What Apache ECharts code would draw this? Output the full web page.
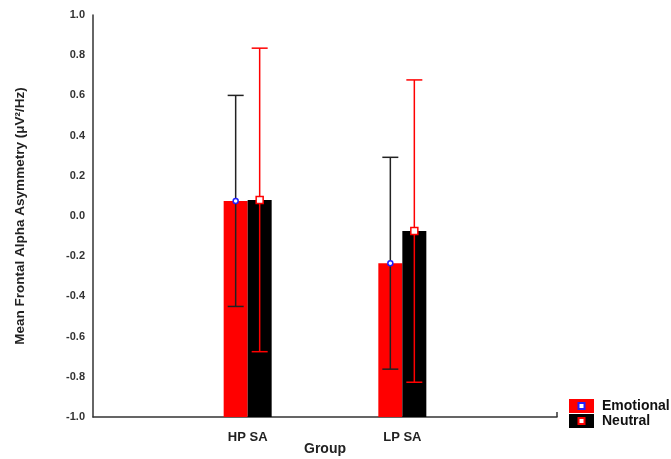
<!DOCTYPE html>
<html>
<head>
<meta charset="utf-8">
<script src="https://cdn.jsdelivr.net/npm/echarts@6/dist/echarts.min.js"></script>
<style>html,body{margin:0;padding:0;background:#fff;}#main{width:671px;height:459px;}</style>
</head>
<body>
<div id="main"></div>
<script>
// Data
var categories = ['', 'HP SA', 'LP SA', ''];
var emotionalMean = [null, 0.075, -0.235, null];
var emotionalSD = [null, 0.525, 0.527, null];
var neutralMean = [null, 0.08, -0.075, null];
var neutralSD = [null, 0.755, 0.752, null];
var yTicks = { min: -1, max: 1, step: 0.2 };

var FONT = '"Liberation Sans", Arial, sans-serif';
function svgIcon(bg, border) {
  var s = "<svg xmlns='http://www.w3.org/2000/svg' width='25' height='14'>" +
    "<rect width='25' height='14' fill='" + bg + "'/>" +
    "<rect x='9.5' y='4' width='6' height='6' fill='white' stroke='" + border + "' stroke-width='2'/></svg>";
  return 'image://data:image/svg+xml;charset=utf-8,' + encodeURIComponent(s);
}

function seriesData(means, sds) {
  var out = [];
  for (var i = 0; i < means.length; i++) {
    if (means[i] !== null) out.push([i, means[i], sds[i]]);
  }
  return out;
}

var BAR_W = 24;
function makeBar(offset, color) {
  return function (params, api) {
    var idx = api.value(0), m = api.value(1);
    var pm = api.coord([idx, m]);
    var pb = api.coord([idx, yTicks.min]);
    var xc = pm[0] + offset;
    return { type: 'rect', shape: { x: xc - BAR_W / 2, y: pm[1], width: BAR_W, height: pb[1] - pm[1] }, style: { fill: color } };
  };
}

function makeErr(offset, color, marker, markerColor) {
  return function (params, api) {
    var idx = api.value(0), m = api.value(1), sd = api.value(2);
    var pm = api.coord([idx, m]);
    var pt = api.coord([idx, m + sd]);
    var pb = api.coord([idx, m - sd]);
    var x = pm[0] + offset;
    var cap = 8;
    var st = { stroke: color, lineWidth: 1.5 };
    var children = [
      { type: 'line', shape: { x1: x, y1: pt[1], x2: x, y2: pb[1] }, style: st },
      { type: 'line', shape: { x1: x - cap, y1: pt[1], x2: x + cap, y2: pt[1] }, style: st },
      { type: 'line', shape: { x1: x - cap, y1: pb[1], x2: x + cap, y2: pb[1] }, style: st }
    ];
    if (marker === 'circle') {
      children.push({ type: 'circle', shape: { cx: x, cy: pm[1], r: 2.5 }, style: { fill: '#fff', stroke: markerColor, lineWidth: 1.5 } });
    } else {
      children.push({ type: 'rect', shape: { x: x - 3.5, y: pm[1] - 3.5, width: 7, height: 7 }, style: { fill: '#fff', stroke: markerColor, lineWidth: 1.5 } });
    }
    return { type: 'group', children: children };
  };
}

var chart = echarts.init(document.getElementById('main'));
chart.setOption({
  backgroundColor: '#fff',
  animation: false,
  grid: { left: 93, right: 114, top: 15, bottom: 42, outerBoundsMode: 'none', containLabel: false },
  legend: {
    orient: 'vertical',
    left: 569, top: 399,
    padding: 0,
    itemWidth: 25, itemHeight: 14, itemGap: 1,
    textStyle: { fontFamily: FONT, fontWeight: 'bold', fontSize: 14, color: '#111', padding: [0, 0, 0, 3] },
    data: [
      { name: 'Emotional', icon: svgIcon('#ff0000', '#2020ff') },
      { name: 'Neutral', icon: svgIcon('#000000', '#ff0000') }
    ]
  },
  xAxis: {
    type: 'category',
    data: categories,
    boundaryGap: false,
    name: 'Group',
    nameLocation: 'middle',
    nameGap: 25,
    nameMoveOverlap: false,
    nameTextStyle: { fontFamily: FONT, fontWeight: 'bold', fontSize: 14, color: '#222' },
    axisLine: { onZero: false, lineStyle: { color: '#333', width: 1.5 } },
    axisTick: { show: true, inside: true, length: 5, interval: function (i) { return i === 3; }, lineStyle: { color: '#333', width: 1.5 } },
    axisLabel: { margin: 14, fontFamily: FONT, fontWeight: 'bold', fontSize: 13, color: '#222', interval: 0 },
    splitLine: { show: false }
  },
  yAxis: {
    type: 'value',
    min: yTicks.min, max: yTicks.max, interval: yTicks.step,
    name: 'Mean Frontal Alpha Asymmetry (μV²/Hz)',
    nameLocation: 'middle',
    nameGap: 66,
    nameRotate: 90,
    nameMoveOverlap: false,
    nameTextStyle: { fontFamily: FONT, fontWeight: 'bold', fontSize: 13.5, color: '#222' },
    axisLine: { show: true, lineStyle: { color: '#333', width: 1.5 } },
    axisTick: { show: false },
    axisLabel: { margin: 8, fontFamily: FONT, fontWeight: 'bold', fontSize: 11, color: '#333',
      formatter: function (v) { return (Math.round(v * 10) / 10 + 0).toFixed(1); } },
    splitLine: { show: false }
  },
  series: [
    { name: 'Emotional', type: 'custom', z: 2, itemStyle: { color: '#ff0000' }, data: seriesData(emotionalMean, emotionalSD),
      renderItem: makeBar(-BAR_W / 2, '#ff0000') },
    { name: 'Neutral', type: 'custom', z: 2, itemStyle: { color: '#000000' }, data: seriesData(neutralMean, neutralSD),
      renderItem: makeBar(BAR_W / 2, '#000000') },
    { name: 'EmotionalErr', type: 'custom', z: 5, data: seriesData(emotionalMean, emotionalSD),
      renderItem: makeErr(-12, '#222', 'circle', '#2020ff') },
    { name: 'NeutralErr', type: 'custom', z: 6, data: seriesData(neutralMean, neutralSD),
      renderItem: makeErr(12, '#ff0000', 'square', '#ff0000') }
  ]
});
</script>
</body>
</html>
